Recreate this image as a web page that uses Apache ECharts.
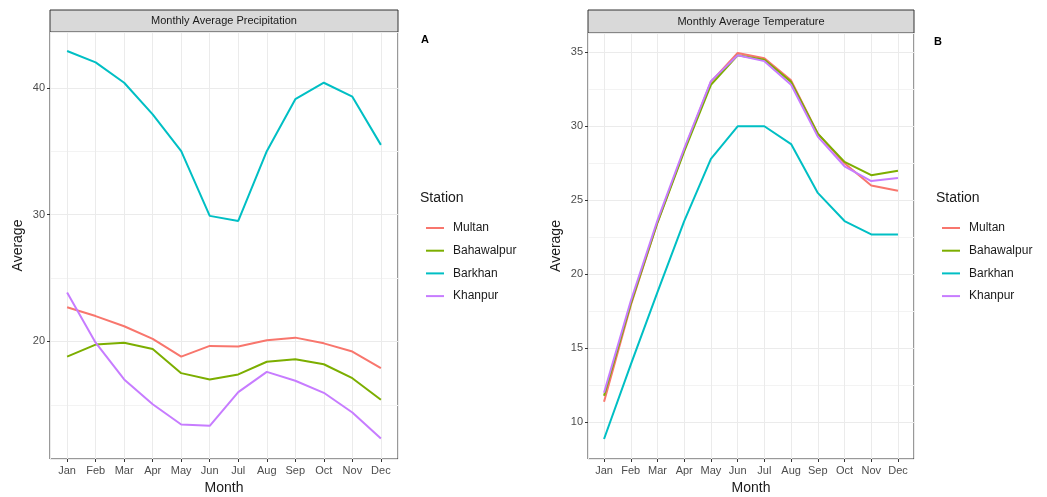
<!DOCTYPE html>
<html>
<head>
<meta charset="utf-8">
<script src="https://cdn.jsdelivr.net/npm/echarts@6/dist/echarts.min.js"></script>
<style>
  html, body { margin: 0; padding: 0; background: #fff; }
  #chart { width: 1047px; height: 497px; }
</style>
</head>
<body>
<div id="chart"></div>
<script>
// data
var months = ['Jan', 'Feb', 'Mar', 'Apr', 'May', 'Jun', 'Jul', 'Aug', 'Sep', 'Oct', 'Nov', 'Dec'];
var stations = ['Multan', 'Bahawalpur', 'Barkhan', 'Khanpur'];
var colors = ['#F8766D', '#7CAE00', '#00BFC4', '#C77CFF'];

// precipitation (panel A)
var precMultan     = [22.7, 22.0, 21.2, 20.2, 18.8, 19.65, 19.6, 20.1, 20.3, 19.85, 19.2, 17.9];
var precBahawalpur = [18.8, 19.75, 19.9, 19.4, 17.5, 17.0, 17.4, 18.4, 18.6, 18.2, 17.1, 15.4];
var precBarkhan    = [42.9, 42.0, 40.4, 37.9, 35.0, 29.9, 29.5, 35.0, 39.1, 40.4, 39.3, 35.5];
var precKhanpur    = [23.85, 19.9, 17.0, 15.05, 13.45, 13.35, 16.0, 17.6, 16.9, 15.95, 14.4, 12.35];

// temperature (panel B)
var tempMultan     = [11.4, 17.9, 23.5, 28.4, 33.0, 34.95, 34.6, 33.1, 29.5, 27.5, 26.0, 25.65];
var tempBahawalpur = [11.8, 18.0, 23.5, 28.3, 32.8, 34.8, 34.5, 33.0, 29.5, 27.6, 26.7, 27.0];
var tempBarkhan    = [8.88, 13.9, 18.8, 23.6, 27.8, 30.0, 30.0, 28.8, 25.5, 23.6, 22.7, 22.7];
var tempKhanpur    = [12.0, 18.2, 23.65, 28.5, 33.05, 34.8, 34.4, 32.8, 29.3, 27.3, 26.3, 26.5];

var precData = [precMultan, precBahawalpur, precBarkhan, precKhanpur];
var tempData = [tempMultan, tempBahawalpur, tempBarkhan, tempKhanpur];

var fontFam = 'Liberation Sans, Arial, sans-serif';

var chart = echarts.init(document.getElementById('chart'));

function toPairs(arr) {
    return arr.map(function (v, i) { return [i, v]; });
}

function xAxisFor(gridIndex) {
    return {
        type: 'value',
        gridIndex: gridIndex,
        min: -0.6,
        max: 11.6,
        minInterval: 1,
        maxInterval: 1,
        name: 'Month',
        nameLocation: 'middle',
        nameGap: 22,
        nameTextStyle: { color: '#1a1a1a', fontSize: 14, fontFamily: fontFam },
        axisLine: { show: false, onZero: false },
        axisTick: { show: true, length: 3, lineStyle: { color: '#333' } },
        axisLabel: {
            margin: 6, color: '#4d4d4d', fontSize: 11, fontFamily: fontFam,
            showMinLabel: false, showMaxLabel: false,
            formatter: function (v) { return Number.isInteger(v) ? months[v] : ''; }
        },
        splitLine: { show: true, lineStyle: { color: '#ebebeb', width: 1 } },
        minorSplitLine: { show: false }
    };
}

function yAxisFor(gridIndex, min, max, step) {
    return {
        type: 'value',
        gridIndex: gridIndex,
        min: min,
        max: max,
        minInterval: step,
        maxInterval: step,
        name: 'Average',
        nameLocation: 'middle',
        nameGap: 25,
        nameTextStyle: { color: '#1a1a1a', fontSize: 14, fontFamily: fontFam },
        axisLine: { show: false, onZero: false },
        axisTick: { show: true, length: 3, lineStyle: { color: '#333' } },
        axisLabel: {
            margin: 5, color: '#4d4d4d', fontSize: 11, fontFamily: fontFam,
            showMinLabel: false, showMaxLabel: false
        },
        splitLine: { show: true, lineStyle: { color: '#ebebeb', width: 1 } },
        minorTick: { show: false, splitNumber: 2 },
        minorSplitLine: { show: true, lineStyle: { color: '#f3f3f3', width: 1 } }
    };
}

var series = [];
stations.forEach(function (name, k) {
    series.push({
        name: name, type: 'line', xAxisIndex: 0, yAxisIndex: 0,
        data: toPairs(precData[k]), showSymbol: false, silent: true,
        lineStyle: { color: colors[k], width: 2 }, itemStyle: { color: colors[k] }
    });
});
stations.forEach(function (name, k) {
    series.push({
        name: name, type: 'line', xAxisIndex: 1, yAxisIndex: 1,
        data: toPairs(tempData[k]), showSymbol: false, silent: true,
        lineStyle: { color: colors[k], width: 2 }, itemStyle: { color: colors[k] }
    });
});

function legendAt(left) {
    return {
        orient: 'vertical',
        left: left,
        top: 216,
        data: stations,
        icon: 'rect',
        itemWidth: 18,
        itemHeight: 2,
        itemGap: 8.7,
        selectedMode: false,
        textStyle: { color: '#1a1a1a', fontSize: 12, fontFamily: fontFam, lineHeight: 14, padding: [0, 0, 0, 4] }
    };
}

function stripFor(x, y, w, h, text) {
    return [
        { type: 'rect', shape: { x: x, y: y, width: w, height: h },
          style: { fill: '#d9d9d9', stroke: '#333', lineWidth: 1 } },
        { type: 'text', x: x + w / 2, y: y + h / 2,
          style: { text: text, fill: '#1a1a1a', font: '11px ' + fontFam, align: 'center', verticalAlign: 'middle' } }
    ];
}

var option = {
    backgroundColor: '#fff',
    animation: false,
    grid: [
        { left: 50, top: 32, width: 348, height: 427, show: true, borderColor: '#333', borderWidth: 1,
          backgroundColor: 'transparent', outerBoundsMode: 'none', containLabel: false },
        { left: 588, top: 33, width: 326, height: 426, show: true, borderColor: '#333', borderWidth: 1,
          backgroundColor: 'transparent', outerBoundsMode: 'none', containLabel: false }
    ],
    xAxis: [xAxisFor(0), xAxisFor(1)],
    yAxis: [yAxisFor(0, 10.73, 44.4, 10), yAxisFor(1, 7.53, 36.3, 5)],
    legend: [legendAt(421), legendAt(937)],
    graphic: [].concat(
        stripFor(50, 10, 348, 22, 'Monthly Average Precipitation'),
        stripFor(588, 10, 326, 23, 'Monthly Average Temperature'),
        [
            { type: 'text', x: 421, y: 40, style: { text: 'A', fill: '#000', font: 'bold 11px ' + fontFam, verticalAlign: 'middle' } },
            { type: 'text', x: 934, y: 42, style: { text: 'B', fill: '#000', font: 'bold 11px ' + fontFam, verticalAlign: 'middle' } },
            { type: 'text', x: 420, y: 198, style: { text: 'Station', fill: '#1a1a1a', font: '14px ' + fontFam, verticalAlign: 'middle' } },
            { type: 'text', x: 936, y: 198, style: { text: 'Station', fill: '#1a1a1a', font: '14px ' + fontFam, verticalAlign: 'middle' } }
        ]
    ),
    series: series
};

chart.setOption(option);
</script>
</body>
</html>
